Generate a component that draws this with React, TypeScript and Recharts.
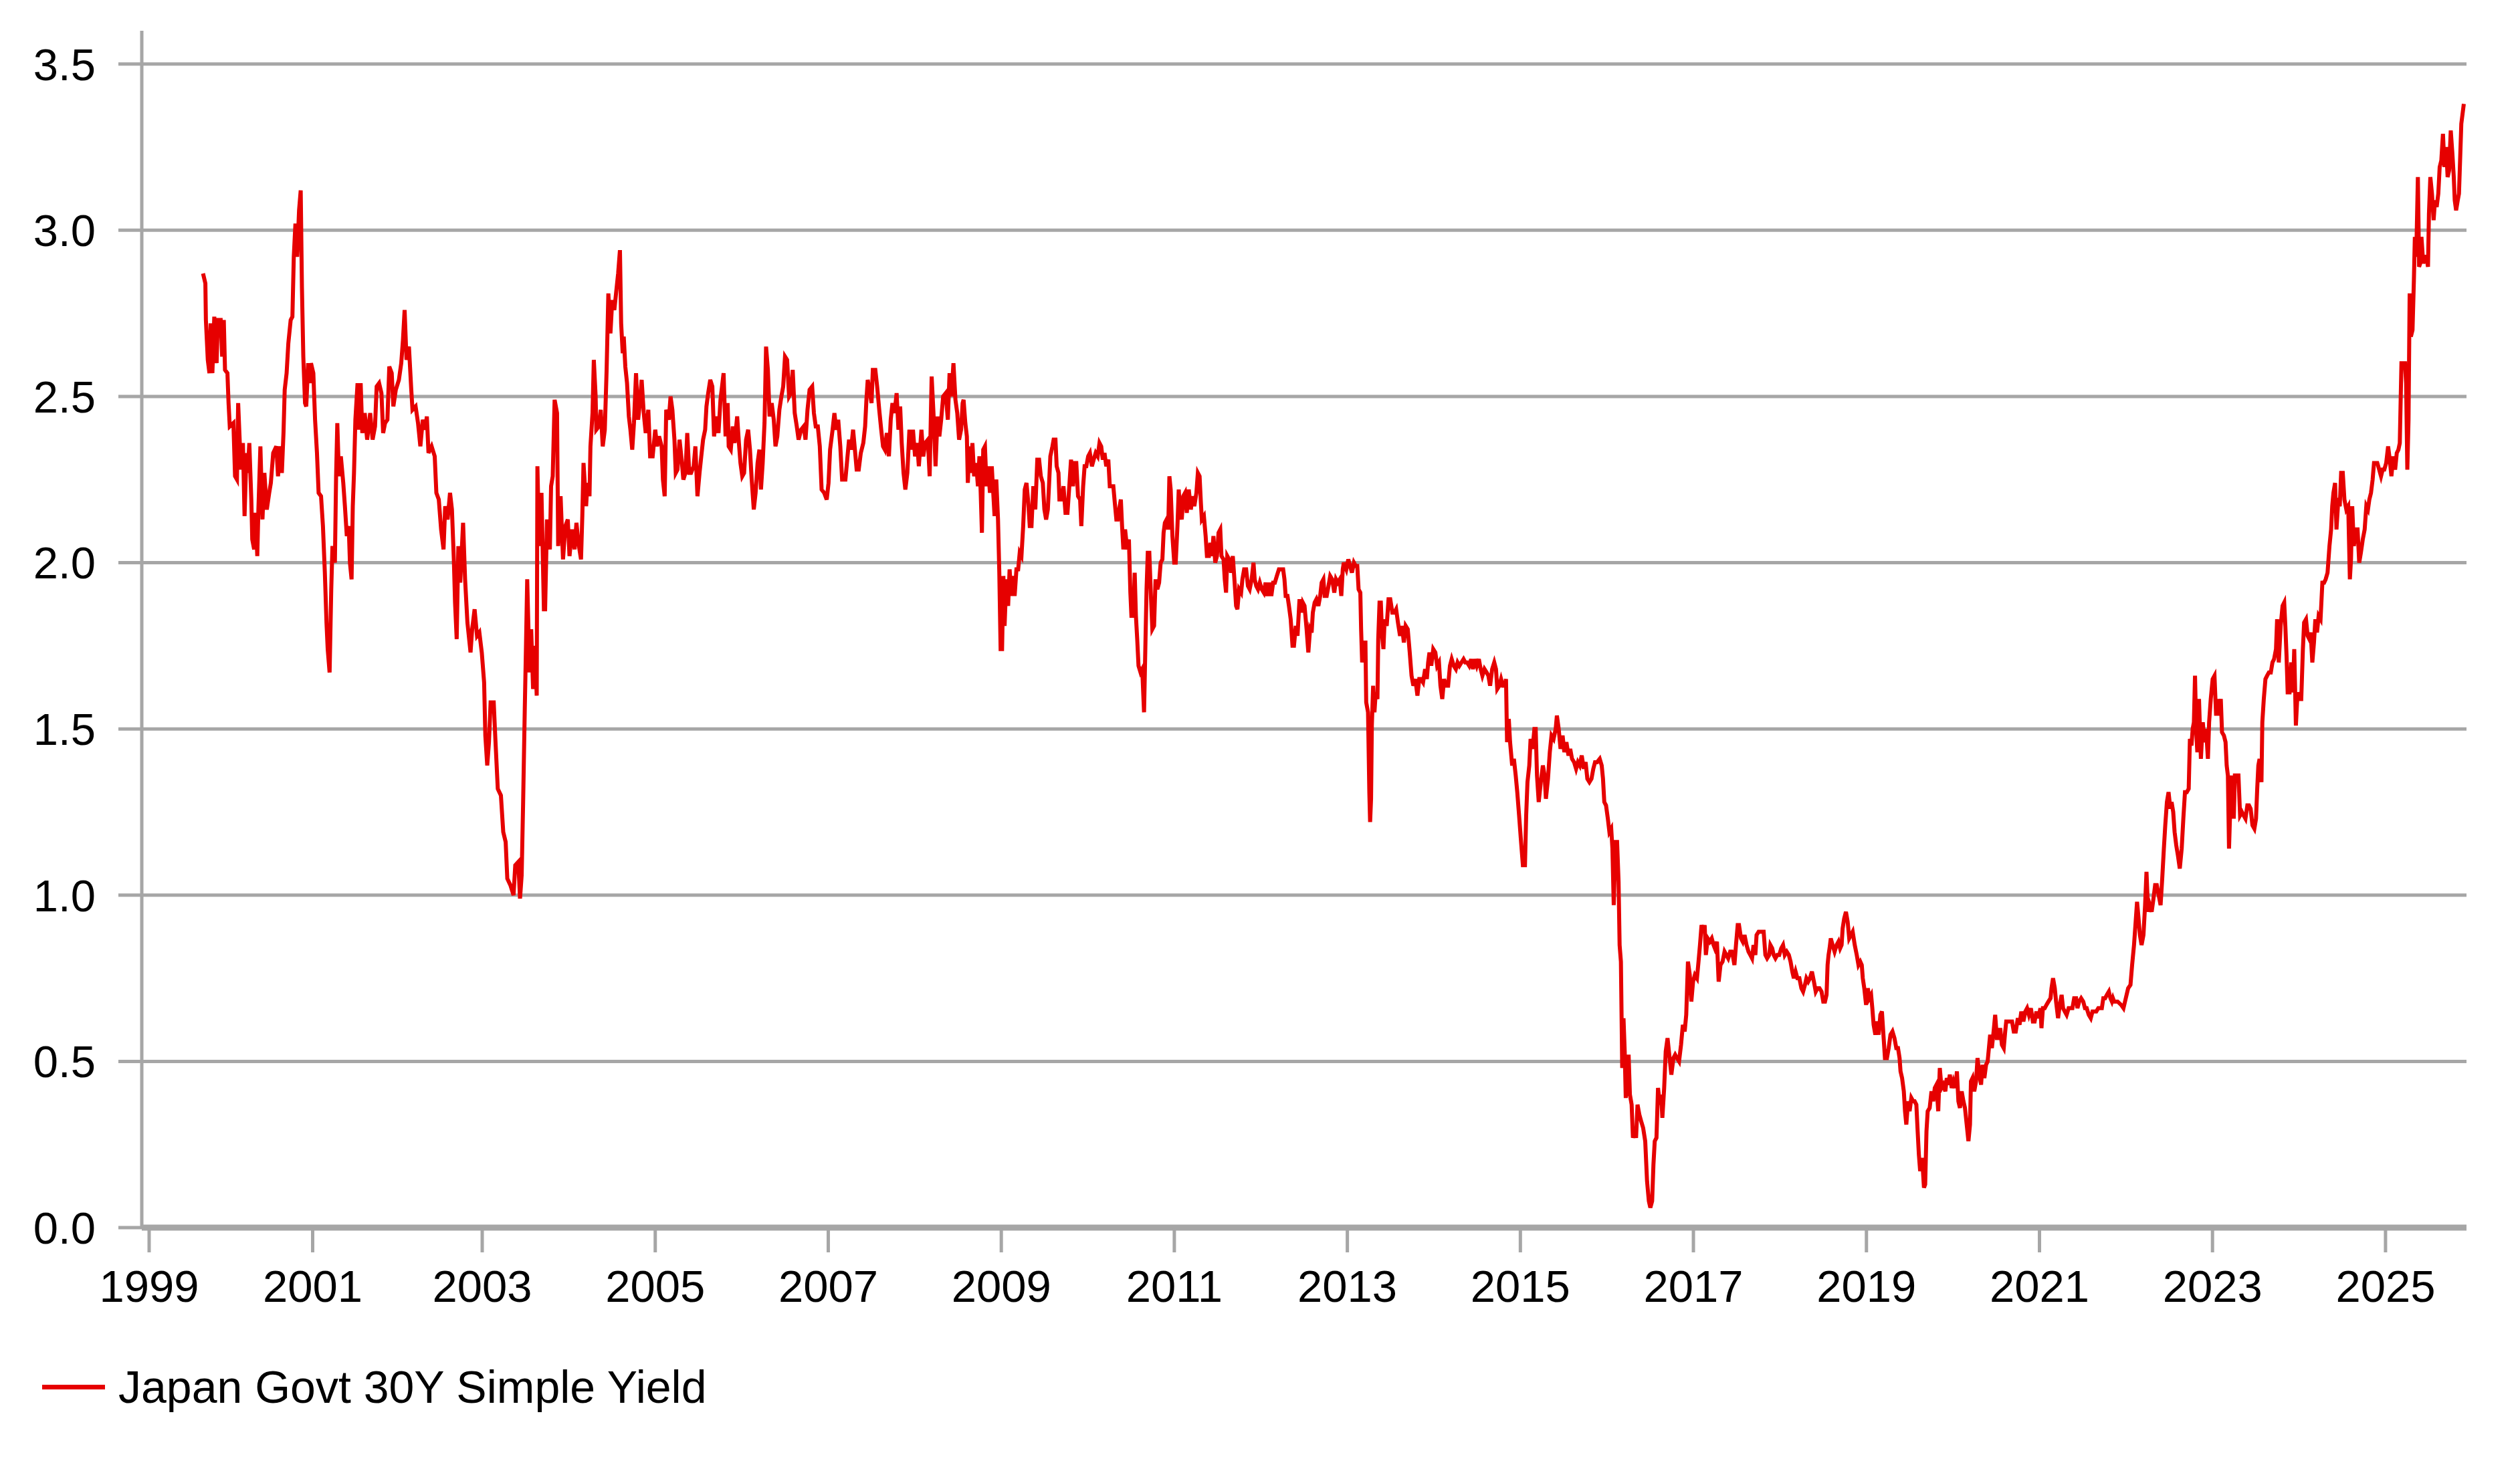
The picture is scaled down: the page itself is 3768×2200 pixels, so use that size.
import { LineChart, Line, XAxis, YAxis, CartesianGrid } from "recharts";

const FONT = '"Liberation Sans", Arial, sans-serif';
const GRID = "#a6a6a6";
const RED = "#e60000";
const SERIES_NAME = "Japan Govt 30Y Simple Yield";

// [decimal year, yield %]
const yields1999to2003: [number, number][] = [
  [1999.773, 2.87], [1999.8, 2.84], [1999.806, 2.73], [1999.828, 2.61], [1999.847, 2.57],
  [1999.861, 2.72], [1999.881, 2.57], [1999.903, 2.74], [1999.93, 2.6], [1999.944, 2.73],
  [1999.977, 2.73], [1999.994, 2.62], [2000.013, 2.73], [2000.027, 2.58], [2000.055, 2.57],
  [2000.068, 2.48], [2000.082, 2.41], [2000.124, 2.42], [2000.143, 2.26], [2000.165, 2.25],
  [2000.179, 2.48], [2000.198, 2.36], [2000.209, 2.28], [2000.234, 2.36], [2000.253, 2.14],
  [2000.275, 2.33], [2000.289, 2.27], [2000.308, 2.36], [2000.331, 2.19], [2000.342, 2.07],
  [2000.364, 2.04], [2000.38, 2.15], [2000.4, 2.02], [2000.413, 2.16], [2000.436, 2.35],
  [2000.46, 2.13], [2000.482, 2.27], [2000.51, 2.16], [2000.538, 2.21], [2000.557, 2.24],
  [2000.584, 2.33], [2000.62, 2.35], [2000.64, 2.26], [2000.662, 2.35], [2000.684, 2.27],
  [2000.703, 2.39], [2000.717, 2.52], [2000.739, 2.57], [2000.759, 2.66], [2000.786, 2.73],
  [2000.806, 2.74], [2000.822, 2.92], [2000.841, 3.02], [2000.861, 2.92], [2000.883, 3.06],
  [2000.902, 3.12], [2000.916, 2.83], [2000.932, 2.62], [2000.952, 2.48], [2000.966, 2.47],
  [2000.988, 2.6], [2001.007, 2.54], [2001.021, 2.6], [2001.048, 2.57], [2001.068, 2.43],
  [2001.09, 2.33], [2001.109, 2.21], [2001.137, 2.2], [2001.159, 2.11], [2001.181, 1.97],
  [2001.2, 1.82], [2001.214, 1.74], [2001.236, 1.67], [2001.255, 1.92], [2001.269, 2.05],
  [2001.297, 2.0], [2001.311, 2.26], [2001.325, 2.42], [2001.344, 2.26], [2001.366, 2.32],
  [2001.394, 2.24], [2001.413, 2.17], [2001.435, 2.08], [2001.457, 2.11], [2001.471, 2.0],
  [2001.49, 1.95], [2001.504, 2.17], [2001.518, 2.27], [2001.534, 2.43], [2001.559, 2.54],
  [2001.573, 2.4], [2001.595, 2.54], [2001.614, 2.39], [2001.642, 2.45], [2001.67, 2.37],
  [2001.705, 2.45], [2001.733, 2.37], [2001.761, 2.41], [2001.78, 2.53], [2001.808, 2.54],
  [2001.835, 2.51], [2001.855, 2.39], [2001.877, 2.42], [2001.904, 2.43], [2001.926, 2.59],
  [2001.954, 2.57], [2001.973, 2.47], [2002.001, 2.52], [2002.037, 2.55], [2002.064, 2.6],
  [2002.084, 2.67], [2002.103, 2.76], [2002.125, 2.61], [2002.153, 2.65], [2002.18, 2.52],
  [2002.194, 2.46], [2002.23, 2.47], [2002.258, 2.42], [2002.285, 2.35], [2002.313, 2.43],
  [2002.34, 2.4], [2002.36, 2.44], [2002.379, 2.33], [2002.415, 2.35], [2002.451, 2.32],
  [2002.47, 2.21], [2002.498, 2.19], [2002.525, 2.1], [2002.553, 2.04], [2002.572, 2.17],
  [2002.6, 2.13], [2002.628, 2.21], [2002.65, 2.16], [2002.672, 2.01], [2002.686, 1.88],
  [2002.705, 1.77], [2002.724, 2.05], [2002.746, 1.94], [2002.779, 2.12], [2002.802, 1.95],
  [2002.829, 1.82], [2002.865, 1.73], [2002.884, 1.8], [2002.912, 1.86], [2002.94, 1.78],
  [2002.967, 1.79], [2002.995, 1.73], [2003.022, 1.64], [2003.036, 1.48], [2003.058, 1.39],
  [2003.078, 1.46], [2003.097, 1.58], [2003.133, 1.58], [2003.152, 1.47], [2003.18, 1.32],
  [2003.216, 1.3], [2003.243, 1.19], [2003.271, 1.16], [2003.29, 1.05], [2003.326, 1.03],
  [2003.362, 1.0], [2003.382, 1.09], [2003.417, 1.1], [2003.437, 0.99], [2003.456, 1.06],
  [2003.473, 1.28], [2003.492, 1.56], [2003.506, 1.75], [2003.52, 1.95], [2003.547, 1.67],
  [2003.566, 1.8], [2003.588, 1.62], [2003.611, 1.75], [2003.63, 1.6], [2003.638, 2.29],
  [2003.658, 2.05], [2003.685, 2.21], [2003.713, 1.86], [2003.727, 1.86], [2003.749, 2.13],
  [2003.782, 2.04], [2003.796, 2.23], [2003.815, 2.26], [2003.837, 2.49], [2003.865, 2.45],
  [2003.878, 2.05], [2003.906, 2.2], [2003.934, 2.01], [2003.961, 2.11], [2003.989, 2.13],
];

const yields2004to2008: [number, number][] = [
  [2004.009, 2.02], [2004.038, 2.1], [2004.068, 2.04], [2004.089, 2.12], [2004.112, 2.06],
  [2004.142, 2.01], [2004.157, 2.14], [2004.171, 2.3], [2004.201, 2.17], [2004.216, 2.24],
  [2004.24, 2.2], [2004.251, 2.35], [2004.275, 2.45], [2004.29, 2.61], [2004.311, 2.5],
  [2004.319, 2.4], [2004.349, 2.41], [2004.37, 2.46], [2004.393, 2.35], [2004.417, 2.4],
  [2004.438, 2.58], [2004.458, 2.81], [2004.482, 2.69], [2004.503, 2.79], [2004.527, 2.76],
  [2004.547, 2.81], [2004.571, 2.87], [2004.592, 2.94], [2004.606, 2.72], [2004.624, 2.63],
  [2004.636, 2.68], [2004.654, 2.59], [2004.674, 2.54], [2004.695, 2.44], [2004.713, 2.4],
  [2004.734, 2.34], [2004.754, 2.42], [2004.778, 2.57], [2004.802, 2.43], [2004.822, 2.48],
  [2004.843, 2.55], [2004.867, 2.45], [2004.89, 2.39], [2004.92, 2.46], [2004.941, 2.32],
  [2004.97, 2.32], [2005.0, 2.4], [2005.021, 2.35], [2005.044, 2.38], [2005.074, 2.35],
  [2005.089, 2.25], [2005.109, 2.2], [2005.127, 2.46], [2005.157, 2.43], [2005.177, 2.5],
  [2005.198, 2.46], [2005.222, 2.37], [2005.237, 2.27], [2005.257, 2.28], [2005.281, 2.37],
  [2005.305, 2.31], [2005.325, 2.25], [2005.349, 2.27], [2005.37, 2.39], [2005.393, 2.27],
  [2005.414, 2.27], [2005.444, 2.29], [2005.464, 2.35], [2005.488, 2.2], [2005.512, 2.27],
  [2005.532, 2.32], [2005.553, 2.37], [2005.577, 2.4], [2005.592, 2.47], [2005.612, 2.51],
  [2005.636, 2.55], [2005.66, 2.53], [2005.68, 2.38], [2005.704, 2.44], [2005.731, 2.39],
  [2005.754, 2.49], [2005.772, 2.53], [2005.79, 2.57], [2005.813, 2.38], [2005.837, 2.48],
  [2005.849, 2.35], [2005.873, 2.34], [2005.896, 2.41], [2005.917, 2.36], [2005.947, 2.44],
  [2005.967, 2.36], [2005.985, 2.3], [2006.006, 2.26], [2006.027, 2.27], [2006.05, 2.37],
  [2006.074, 2.4], [2006.095, 2.34], [2006.115, 2.25], [2006.139, 2.16], [2006.16, 2.21],
  [2006.183, 2.3], [2006.204, 2.34], [2006.222, 2.22], [2006.242, 2.3], [2006.263, 2.42],
  [2006.281, 2.65], [2006.302, 2.58], [2006.322, 2.44], [2006.346, 2.48], [2006.37, 2.43],
  [2006.39, 2.35], [2006.411, 2.38], [2006.435, 2.46], [2006.458, 2.5], [2006.479, 2.53],
  [2006.5, 2.62], [2006.524, 2.61], [2006.547, 2.5], [2006.568, 2.51], [2006.589, 2.58],
  [2006.612, 2.45], [2006.636, 2.41], [2006.657, 2.37], [2006.686, 2.4], [2006.716, 2.41],
  [2006.737, 2.37], [2006.76, 2.46], [2006.784, 2.52], [2006.814, 2.53], [2006.834, 2.45],
  [2006.855, 2.41], [2006.879, 2.41], [2006.902, 2.35], [2006.923, 2.22], [2006.953, 2.21],
  [2006.982, 2.19], [2007.003, 2.24], [2007.021, 2.34], [2007.05, 2.4], [2007.071, 2.45],
  [2007.092, 2.4], [2007.115, 2.43], [2007.139, 2.35], [2007.16, 2.25], [2007.198, 2.25],
  [2007.219, 2.31], [2007.24, 2.37], [2007.263, 2.34], [2007.287, 2.4], [2007.308, 2.34],
  [2007.328, 2.28], [2007.352, 2.28], [2007.376, 2.33], [2007.405, 2.36], [2007.426, 2.41],
  [2007.441, 2.49], [2007.456, 2.55], [2007.476, 2.52], [2007.5, 2.48], [2007.515, 2.58],
  [2007.544, 2.58], [2007.565, 2.53], [2007.589, 2.46], [2007.612, 2.4], [2007.633, 2.35],
  [2007.654, 2.34], [2007.677, 2.39], [2007.701, 2.32], [2007.722, 2.43], [2007.742, 2.48],
  [2007.766, 2.45], [2007.79, 2.51], [2007.811, 2.4], [2007.831, 2.47], [2007.849, 2.36],
  [2007.87, 2.27], [2007.891, 2.22], [2007.914, 2.27], [2007.938, 2.4], [2007.958, 2.34],
  [2007.979, 2.4], [2008.003, 2.32], [2008.027, 2.36], [2008.047, 2.29], [2008.077, 2.4],
  [2008.098, 2.32], [2008.121, 2.36], [2008.151, 2.37], [2008.172, 2.26], [2008.195, 2.56],
  [2008.216, 2.45], [2008.24, 2.29], [2008.263, 2.44], [2008.284, 2.38], [2008.305, 2.43],
  [2008.328, 2.5], [2008.358, 2.51], [2008.382, 2.43], [2008.402, 2.57], [2008.423, 2.5],
  [2008.447, 2.6], [2008.47, 2.49], [2008.491, 2.45], [2008.512, 2.37], [2008.535, 2.4],
  [2008.553, 2.48],
];

const yields2008to2012: [number, number][] = [
  [2008.564, 2.49], [2008.584, 2.42], [2008.602, 2.38], [2008.613, 2.24], [2008.631, 2.35],
  [2008.651, 2.27], [2008.666, 2.36], [2008.686, 2.26], [2008.709, 2.3], [2008.73, 2.23],
  [2008.747, 2.32], [2008.762, 2.21], [2008.776, 2.09], [2008.791, 2.34], [2008.811, 2.35],
  [2008.829, 2.23], [2008.846, 2.29], [2008.869, 2.21], [2008.89, 2.29], [2008.907, 2.21],
  [2008.922, 2.14], [2008.942, 2.25], [2008.962, 2.13], [2008.977, 1.97], [2008.992, 1.74],
  [2009.009, 1.74], [2009.024, 1.96], [2009.038, 1.81], [2009.058, 1.95], [2009.079, 1.87],
  [2009.096, 1.98], [2009.117, 1.9], [2009.137, 1.96], [2009.154, 1.9], [2009.175, 1.98],
  [2009.195, 1.98], [2009.213, 2.03], [2009.233, 2.02], [2009.253, 2.11], [2009.271, 2.22],
  [2009.291, 2.24], [2009.312, 2.18], [2009.329, 2.11], [2009.349, 2.11], [2009.37, 2.23],
  [2009.393, 2.16], [2009.416, 2.31], [2009.437, 2.31], [2009.457, 2.26], [2009.48, 2.24],
  [2009.498, 2.16], [2009.518, 2.13], [2009.538, 2.16], [2009.553, 2.24], [2009.567, 2.32],
  [2009.591, 2.35], [2009.605, 2.37], [2009.626, 2.37], [2009.64, 2.29], [2009.661, 2.27],
  [2009.672, 2.19], [2009.698, 2.19], [2009.719, 2.23], [2009.742, 2.15], [2009.765, 2.15],
  [2009.786, 2.23], [2009.806, 2.31], [2009.829, 2.23], [2009.85, 2.3], [2009.867, 2.3],
  [2009.887, 2.2], [2009.911, 2.19], [2009.925, 2.11], [2009.946, 2.23], [2009.963, 2.29],
  [2009.983, 2.29], [2010.004, 2.32], [2010.024, 2.33], [2010.047, 2.29], [2010.068, 2.31],
  [2010.091, 2.33], [2010.114, 2.32], [2010.135, 2.36], [2010.155, 2.35], [2010.173, 2.31],
  [2010.193, 2.33], [2010.213, 2.29], [2010.237, 2.31], [2010.254, 2.23], [2010.274, 2.23],
  [2010.295, 2.23], [2010.312, 2.18], [2010.33, 2.13], [2010.347, 2.13], [2010.362, 2.16],
  [2010.382, 2.19], [2010.396, 2.11], [2010.411, 2.04], [2010.431, 2.1], [2010.455, 2.04],
  [2010.475, 2.07], [2010.492, 1.91], [2010.504, 1.84], [2010.527, 1.84], [2010.542, 1.97],
  [2010.556, 1.84], [2010.571, 1.77], [2010.586, 1.69], [2010.609, 1.67], [2010.629, 1.68],
  [2010.65, 1.55], [2010.667, 1.77], [2010.679, 1.92], [2010.693, 2.03], [2010.711, 2.03],
  [2010.731, 1.89], [2010.746, 1.8], [2010.766, 1.81], [2010.783, 1.95], [2010.804, 1.92],
  [2010.824, 1.94], [2010.842, 2.0], [2010.862, 2.01], [2010.876, 2.09], [2010.891, 2.12],
  [2010.911, 2.13], [2010.929, 2.1], [2010.943, 2.26], [2010.958, 2.22], [2010.978, 2.08],
  [2010.999, 2.0], [2011.016, 2.0], [2011.036, 2.11], [2011.051, 2.22], [2011.065, 2.16],
  [2011.086, 2.13], [2011.103, 2.2], [2011.124, 2.21], [2011.144, 2.15], [2011.167, 2.22],
  [2011.191, 2.16], [2011.211, 2.2], [2011.231, 2.17], [2011.255, 2.21], [2011.272, 2.27],
  [2011.292, 2.26], [2011.307, 2.18], [2011.318, 2.13], [2011.342, 2.14], [2011.362, 2.08],
  [2011.377, 2.02], [2011.4, 2.02], [2011.417, 2.06], [2011.435, 2.02], [2011.452, 2.08],
  [2011.473, 2.0], [2011.493, 2.02], [2011.511, 2.09], [2011.531, 2.1], [2011.545, 2.02],
  [2011.569, 2.01], [2011.583, 1.95], [2011.598, 1.91], [2011.612, 2.02], [2011.633, 2.01],
  [2011.656, 1.97], [2011.676, 2.02], [2011.697, 1.94], [2011.714, 1.87], [2011.729, 1.86],
  [2011.749, 1.92], [2011.772, 1.91], [2011.787, 1.95], [2011.807, 1.98], [2011.83, 1.98],
  [2011.851, 1.93], [2011.871, 1.92], [2011.894, 1.95], [2011.915, 2.0], [2011.929, 1.95],
  [2011.947, 1.93], [2011.967, 1.92], [2011.988, 1.94], [2012.011, 1.92], [2012.034, 1.91],
  [2012.055, 1.94], [2012.075, 1.9], [2012.098, 1.94], [2012.121, 1.9], [2012.142, 1.94],
  [2012.162, 1.94], [2012.185, 1.96], [2012.209, 1.98], [2012.238, 1.98], [2012.258, 1.98],
  [2012.273, 1.95], [2012.287, 1.9], [2012.308, 1.9], [2012.325, 1.87], [2012.345, 1.83],
  [2012.366, 1.75], [2012.383, 1.75], [2012.404, 1.81], [2012.424, 1.78], [2012.447, 1.89],
  [2012.468, 1.85], [2012.485, 1.88], [2012.505, 1.87], [2012.529, 1.8], [2012.549, 1.73],
  [2012.569, 1.8], [2012.587, 1.79], [2012.601, 1.85], [2012.622, 1.88], [2012.642, 1.89],
  [2012.665, 1.87], [2012.686, 1.9], [2012.703, 1.94], [2012.723, 1.95], [2012.738, 1.9],
  [2012.761, 1.9], [2012.782, 1.93], [2012.802, 1.96], [2012.825, 1.95], [2012.849, 1.91],
  [2012.869, 1.95], [2012.889, 1.94], [2012.912, 1.95], [2012.93, 1.9], [2012.947, 1.98],
  [2012.959, 2.0],
];

const yields2013to2017: [number, number][] = [
  [2012.973, 1.99], [2012.988, 1.98], [2013.011, 2.01], [2013.032, 1.99], [2013.053, 1.97],
  [2013.076, 2.0], [2013.097, 1.99], [2013.115, 1.99], [2013.13, 1.92], [2013.15, 1.91],
  [2013.159, 1.8], [2013.171, 1.7], [2013.189, 1.76], [2013.209, 1.76], [2013.218, 1.58],
  [2013.239, 1.55], [2013.254, 1.31], [2013.263, 1.22], [2013.274, 1.29], [2013.283, 1.51],
  [2013.298, 1.63], [2013.313, 1.55], [2013.328, 1.61], [2013.348, 1.59], [2013.357, 1.77],
  [2013.372, 1.88], [2013.387, 1.88], [2013.402, 1.78], [2013.417, 1.74], [2013.431, 1.83],
  [2013.455, 1.81], [2013.476, 1.89], [2013.496, 1.89], [2013.52, 1.85], [2013.544, 1.85],
  [2013.564, 1.86], [2013.585, 1.82], [2013.609, 1.78], [2013.632, 1.81], [2013.653, 1.76],
  [2013.674, 1.81], [2013.698, 1.8], [2013.721, 1.73], [2013.742, 1.66], [2013.763, 1.63],
  [2013.786, 1.65], [2013.81, 1.6], [2013.831, 1.65], [2013.851, 1.65], [2013.875, 1.64],
  [2013.899, 1.68], [2013.919, 1.65], [2013.934, 1.7], [2013.949, 1.73], [2013.97, 1.69],
  [2013.993, 1.74], [2014.017, 1.73], [2014.038, 1.69], [2014.059, 1.7], [2014.076, 1.63],
  [2014.097, 1.59], [2014.118, 1.65], [2014.141, 1.63], [2014.165, 1.63], [2014.186, 1.69],
  [2014.206, 1.71], [2014.23, 1.69], [2014.254, 1.68], [2014.274, 1.7], [2014.295, 1.69],
  [2014.319, 1.7], [2014.343, 1.71], [2014.363, 1.7], [2014.384, 1.7], [2014.408, 1.69],
  [2014.431, 1.71], [2014.452, 1.68], [2014.473, 1.71], [2014.496, 1.69], [2014.52, 1.71],
  [2014.541, 1.68], [2014.561, 1.66], [2014.585, 1.68], [2014.609, 1.67], [2014.63, 1.66],
  [2014.65, 1.63], [2014.674, 1.68], [2014.698, 1.7], [2014.718, 1.68], [2014.733, 1.62],
  [2014.757, 1.63], [2014.777, 1.65], [2014.798, 1.63], [2014.822, 1.63], [2014.834, 1.65],
  [2014.846, 1.46], [2014.866, 1.53], [2014.881, 1.46], [2014.905, 1.39], [2014.925, 1.41],
  [2014.946, 1.36], [2014.964, 1.31], [2014.985, 1.24], [2015.005, 1.17], [2015.029, 1.09],
  [2015.053, 1.09], [2015.067, 1.24], [2015.082, 1.34], [2015.103, 1.39], [2015.118, 1.47],
  [2015.141, 1.44], [2015.162, 1.5], [2015.177, 1.5], [2015.192, 1.36], [2015.212, 1.28],
  [2015.236, 1.34], [2015.26, 1.39], [2015.28, 1.36], [2015.295, 1.29], [2015.319, 1.35],
  [2015.34, 1.43], [2015.36, 1.48], [2015.384, 1.47], [2015.408, 1.5], [2015.422, 1.54],
  [2015.443, 1.5], [2015.464, 1.44], [2015.488, 1.48], [2015.508, 1.43], [2015.532, 1.46],
  [2015.556, 1.42], [2015.576, 1.44], [2015.597, 1.41], [2015.621, 1.4], [2015.644, 1.38],
  [2015.665, 1.4], [2015.686, 1.39], [2015.709, 1.42], [2015.733, 1.38], [2015.754, 1.4],
  [2015.774, 1.35], [2015.798, 1.34], [2015.822, 1.35], [2015.843, 1.38], [2015.863, 1.4],
  [2015.887, 1.4], [2015.917, 1.41], [2015.94, 1.39], [2015.955, 1.35], [2015.97, 1.28],
  [2015.99, 1.27], [2016.011, 1.23], [2016.029, 1.19], [2016.05, 1.2], [2016.064, 1.14],
  [2016.079, 0.97], [2016.1, 1.16], [2016.118, 1.16], [2016.135, 1.04], [2016.147, 0.85],
  [2016.162, 0.8], [2016.177, 0.48], [2016.192, 0.63], [2016.206, 0.53], [2016.218, 0.39],
  [2016.236, 0.44], [2016.251, 0.52], [2016.266, 0.4], [2016.286, 0.37], [2016.301, 0.27],
  [2016.322, 0.29], [2016.337, 0.27], [2016.354, 0.37], [2016.375, 0.34], [2016.396, 0.32],
  [2016.419, 0.3], [2016.443, 0.26], [2016.464, 0.14], [2016.485, 0.08], [2016.502, 0.06],
  [2016.523, 0.08], [2016.538, 0.19], [2016.553, 0.26], [2016.573, 0.27], [2016.591, 0.42],
  [2016.612, 0.37], [2016.627, 0.4], [2016.641, 0.33], [2016.662, 0.42], [2016.68, 0.53],
  [2016.701, 0.57], [2016.721, 0.52], [2016.745, 0.46], [2016.769, 0.51], [2016.789, 0.52],
  [2016.81, 0.51], [2016.834, 0.5], [2016.857, 0.55], [2016.878, 0.61], [2016.899, 0.59],
  [2016.917, 0.64], [2016.937, 0.8], [2016.958, 0.76], [2016.976, 0.68], [2016.996, 0.74],
  [2017.017, 0.76], [2017.041, 0.75], [2017.059, 0.8], [2017.076, 0.85], [2017.094, 0.91],
  [2017.115, 0.89], [2017.13, 0.91], [2017.144, 0.82], [2017.165, 0.87], [2017.189, 0.86],
  [2017.212, 0.87], [2017.233, 0.85], [2017.248, 0.84], [2017.272, 0.86], [2017.292, 0.74],
  [2017.313, 0.79], [2017.337, 0.8], [2017.36, 0.83], [2017.381, 0.82], [2017.402, 0.81],
  [2017.425, 0.83], [2017.443, 0.83],
];

const yields2017to2021: [number, number][] = [
  [2017.454, 0.82], [2017.474, 0.79], [2017.492, 0.85], [2017.512, 0.91], [2017.527, 0.91],
  [2017.55, 0.87], [2017.57, 0.86], [2017.591, 0.88], [2017.614, 0.85], [2017.637, 0.83],
  [2017.658, 0.82], [2017.678, 0.81], [2017.695, 0.85], [2017.716, 0.82], [2017.73, 0.88],
  [2017.754, 0.89], [2017.774, 0.89], [2017.794, 0.89], [2017.812, 0.89], [2017.832, 0.82],
  [2017.852, 0.81], [2017.876, 0.82], [2017.89, 0.85], [2017.911, 0.84], [2017.928, 0.82],
  [2017.948, 0.81], [2017.969, 0.82], [2017.992, 0.82], [2018.015, 0.84], [2018.036, 0.85],
  [2018.056, 0.82], [2018.079, 0.83], [2018.103, 0.82], [2018.123, 0.8], [2018.143, 0.77],
  [2018.161, 0.75], [2018.181, 0.77], [2018.202, 0.75], [2018.225, 0.75], [2018.248, 0.72],
  [2018.268, 0.71], [2018.289, 0.73], [2018.306, 0.75], [2018.327, 0.74], [2018.347, 0.75],
  [2018.37, 0.77], [2018.393, 0.74], [2018.414, 0.71], [2018.434, 0.72], [2018.457, 0.72],
  [2018.481, 0.71], [2018.501, 0.68], [2018.521, 0.68], [2018.539, 0.7], [2018.551, 0.79],
  [2018.562, 0.82], [2018.574, 0.84], [2018.588, 0.87], [2018.609, 0.85], [2018.632, 0.83],
  [2018.655, 0.85], [2018.676, 0.86], [2018.696, 0.84], [2018.713, 0.85], [2018.725, 0.9],
  [2018.743, 0.93], [2018.763, 0.95], [2018.783, 0.92], [2018.801, 0.87], [2018.821, 0.88],
  [2018.841, 0.89], [2018.865, 0.85], [2018.888, 0.82], [2018.908, 0.79], [2018.929, 0.8],
  [2018.946, 0.79], [2018.958, 0.75], [2018.975, 0.72], [2018.996, 0.67], [2019.016, 0.72],
  [2019.033, 0.69], [2019.054, 0.7], [2019.068, 0.66], [2019.083, 0.61], [2019.103, 0.58],
  [2019.121, 0.62], [2019.141, 0.58], [2019.161, 0.64], [2019.179, 0.65], [2019.199, 0.57],
  [2019.214, 0.51], [2019.237, 0.51], [2019.257, 0.54], [2019.278, 0.58], [2019.301, 0.59],
  [2019.324, 0.57], [2019.345, 0.54], [2019.365, 0.54], [2019.383, 0.51], [2019.394, 0.47],
  [2019.412, 0.45], [2019.432, 0.41], [2019.446, 0.35], [2019.461, 0.31], [2019.481, 0.38],
  [2019.499, 0.35], [2019.519, 0.39], [2019.54, 0.38], [2019.557, 0.38], [2019.577, 0.37],
  [2019.592, 0.29], [2019.606, 0.22], [2019.621, 0.17], [2019.644, 0.21], [2019.665, 0.12],
  [2019.679, 0.13], [2019.694, 0.29], [2019.708, 0.35], [2019.731, 0.36], [2019.752, 0.41],
  [2019.772, 0.38], [2019.79, 0.42], [2019.81, 0.43], [2019.83, 0.35], [2019.848, 0.48],
  [2019.868, 0.42], [2019.889, 0.43], [2019.912, 0.41], [2019.929, 0.45], [2019.947, 0.43],
  [2019.964, 0.46], [2019.985, 0.42], [2020.005, 0.44], [2020.028, 0.42], [2020.046, 0.47],
  [2020.063, 0.38], [2020.081, 0.36], [2020.101, 0.41], [2020.121, 0.38], [2020.139, 0.36],
  [2020.159, 0.31], [2020.179, 0.26], [2020.197, 0.31], [2020.208, 0.44], [2020.226, 0.45],
  [2020.246, 0.41], [2020.267, 0.44], [2020.284, 0.51], [2020.305, 0.46], [2020.325, 0.43],
  [2020.342, 0.49], [2020.363, 0.45], [2020.383, 0.49], [2020.401, 0.5], [2020.412, 0.53],
  [2020.43, 0.58], [2020.45, 0.54], [2020.47, 0.59], [2020.488, 0.64], [2020.508, 0.57],
  [2020.528, 0.57], [2020.546, 0.6], [2020.566, 0.55], [2020.587, 0.54], [2020.604, 0.59],
  [2020.616, 0.62], [2020.639, 0.62], [2020.662, 0.62], [2020.683, 0.62], [2020.703, 0.59],
  [2020.726, 0.59], [2020.75, 0.63], [2020.77, 0.61], [2020.79, 0.65], [2020.814, 0.62],
  [2020.837, 0.65], [2020.857, 0.66], [2020.878, 0.64], [2020.901, 0.66], [2020.924, 0.62],
  [2020.944, 0.62], [2020.965, 0.65], [2020.988, 0.63], [2021.011, 0.66], [2021.023, 0.6],
  [2021.04, 0.66], [2021.061, 0.66], [2021.081, 0.67], [2021.104, 0.68], [2021.128, 0.69],
  [2021.139, 0.72], [2021.157, 0.75], [2021.177, 0.72], [2021.192, 0.68], [2021.215, 0.63],
  [2021.235, 0.67], [2021.256, 0.7], [2021.273, 0.66], [2021.293, 0.65], [2021.314, 0.64],
  [2021.337, 0.66], [2021.36, 0.66], [2021.381, 0.66], [2021.401, 0.69], [2021.424, 0.69],
  [2021.439, 0.66], [2021.459, 0.68], [2021.482, 0.69], [2021.506, 0.68], [2021.526, 0.66],
  [2021.546, 0.66], [2021.57, 0.64], [2021.593, 0.63], [2021.613, 0.65], [2021.634, 0.65],
  [2021.657, 0.65], [2021.68, 0.66], [2021.701, 0.66], [2021.721, 0.66], [2021.738, 0.69],
  [2021.759, 0.69], [2021.779, 0.7], [2021.802, 0.71], [2021.82, 0.69], [2021.837, 0.68],
  [2021.849, 0.69],
];

const yields2022to2025: [number, number][] = [
  [2021.863, 0.68], [2021.903, 0.68], [2021.944, 0.67], [2021.971, 0.66], [2021.998, 0.69],
  [2022.025, 0.72], [2022.052, 0.73], [2022.071, 0.79], [2022.093, 0.85], [2022.112, 0.92],
  [2022.128, 0.98], [2022.142, 0.94], [2022.161, 0.88], [2022.18, 0.85], [2022.202, 0.88],
  [2022.221, 0.97], [2022.237, 1.07], [2022.256, 0.95], [2022.275, 0.97], [2022.297, 0.95],
  [2022.318, 0.99], [2022.337, 1.03], [2022.356, 1.03], [2022.378, 1.0], [2022.4, 0.97],
  [2022.419, 1.05], [2022.438, 1.14], [2022.454, 1.21], [2022.473, 1.28], [2022.492, 1.31],
  [2022.513, 1.26], [2022.527, 1.28], [2022.546, 1.25], [2022.562, 1.19], [2022.581, 1.15],
  [2022.6, 1.12], [2022.622, 1.08], [2022.644, 1.14], [2022.663, 1.23], [2022.682, 1.31],
  [2022.703, 1.31], [2022.725, 1.32], [2022.739, 1.47], [2022.757, 1.45], [2022.771, 1.5],
  [2022.785, 1.52], [2022.798, 1.66], [2022.812, 1.49], [2022.825, 1.43], [2022.844, 1.59],
  [2022.866, 1.41], [2022.888, 1.52], [2022.907, 1.46], [2022.926, 1.5], [2022.947, 1.41],
  [2022.961, 1.52], [2022.98, 1.59], [2023.002, 1.65], [2023.023, 1.66], [2023.042, 1.54],
  [2023.061, 1.59], [2023.077, 1.54], [2023.096, 1.59], [2023.11, 1.49], [2023.132, 1.48],
  [2023.151, 1.46], [2023.164, 1.39], [2023.178, 1.36], [2023.191, 1.14], [2023.205, 1.26],
  [2023.224, 1.36], [2023.246, 1.23], [2023.259, 1.36], [2023.278, 1.36], [2023.3, 1.36],
  [2023.319, 1.24], [2023.34, 1.25], [2023.359, 1.24], [2023.381, 1.23], [2023.403, 1.27],
  [2023.422, 1.27], [2023.441, 1.26], [2023.462, 1.21], [2023.484, 1.2], [2023.503, 1.23],
  [2023.517, 1.32], [2023.53, 1.39], [2023.544, 1.41], [2023.566, 1.34], [2023.576, 1.52],
  [2023.593, 1.59], [2023.612, 1.65], [2023.631, 1.66], [2023.652, 1.67], [2023.674, 1.67],
  [2023.693, 1.7], [2023.712, 1.71], [2023.734, 1.74], [2023.747, 1.83], [2023.766, 1.7],
  [2023.788, 1.81], [2023.81, 1.87], [2023.829, 1.88], [2023.842, 1.81], [2023.856, 1.72],
  [2023.869, 1.61], [2023.891, 1.61], [2023.91, 1.7], [2023.929, 1.61], [2023.945, 1.74],
  [2023.964, 1.51], [2023.983, 1.61], [2024.005, 1.59], [2024.026, 1.59], [2024.045, 1.74],
  [2024.059, 1.82], [2024.081, 1.83], [2024.1, 1.78], [2024.119, 1.77], [2024.135, 1.79],
  [2024.154, 1.7], [2024.173, 1.76], [2024.189, 1.83], [2024.208, 1.79], [2024.227, 1.84],
  [2024.249, 1.83], [2024.27, 1.94], [2024.29, 1.94], [2024.308, 1.95], [2024.33, 1.97],
  [2024.352, 2.05], [2024.371, 2.1], [2024.384, 2.17], [2024.398, 2.21], [2024.417, 2.24],
  [2024.433, 2.1], [2024.452, 2.18], [2024.471, 2.17], [2024.487, 2.27], [2024.506, 2.27],
  [2024.525, 2.19], [2024.547, 2.16], [2024.569, 2.17], [2024.588, 1.95], [2024.601, 2.01],
  [2024.615, 2.17], [2024.634, 2.05], [2024.656, 2.1], [2024.677, 2.1], [2024.696, 2.0],
  [2024.715, 2.03], [2024.737, 2.07], [2024.759, 2.1], [2024.778, 2.17], [2024.797, 2.16],
  [2024.813, 2.19], [2024.832, 2.21], [2024.851, 2.25], [2024.867, 2.3], [2024.886, 2.3],
  [2024.905, 2.3], [2024.927, 2.28], [2024.948, 2.26], [2024.967, 2.28], [2024.986, 2.28],
  [2025.008, 2.3], [2025.03, 2.35], [2025.049, 2.31], [2025.068, 2.26], [2025.089, 2.32],
  [2025.111, 2.28], [2025.13, 2.33], [2025.149, 2.34], [2025.165, 2.36], [2025.176, 2.5],
  [2025.184, 2.6], [2025.203, 2.6], [2025.225, 2.6], [2025.238, 2.54], [2025.252, 2.28],
  [2025.266, 2.43], [2025.279, 2.81], [2025.293, 2.68], [2025.312, 2.7], [2025.328, 2.85],
  [2025.339, 2.98], [2025.355, 2.92], [2025.374, 3.16], [2025.388, 2.89], [2025.401, 2.9],
  [2025.415, 2.98], [2025.436, 2.9], [2025.455, 2.92], [2025.474, 2.92], [2025.491, 2.89],
  [2025.502, 3.05], [2025.518, 3.16], [2025.537, 3.11], [2025.556, 3.03], [2025.572, 3.09],
  [2025.591, 3.07], [2025.61, 3.11], [2025.626, 3.19], [2025.645, 3.21], [2025.664, 3.29],
  [2025.681, 3.19], [2025.7, 3.25], [2025.718, 3.16], [2025.735, 3.18], [2025.754, 3.3],
  [2025.773, 3.23], [2025.789, 3.16], [2025.8, 3.09], [2025.816, 3.06], [2025.835, 3.09],
  [2025.849, 3.11], [2025.862, 3.21], [2025.876, 3.32], [2025.905, 3.38],
];

// tick positions on the date axis (first two sit slightly off Jan 1 in the original)
const xTicks = [1999.15, 2001.04, 2003, 2005, 2007, 2009, 2011, 2013, 2015, 2017, 2019, 2021, 2023, 2025];
const yTicks = [0, 0.5, 1, 1.5, 2, 2.5, 3, 3.5];

const data = [
  ...yields1999to2003,
  ...yields2004to2008,
  ...yields2008to2012,
  ...yields2013to2017,
  ...yields2017to2021,
  ...yields2022to2025,
].map(([t, v]) => ({ t, v }));

const TICK_STYLE = { fill: "#000", fontSize: 67, fontFamily: FONT };

export default function App() {
  return (
    <div
      style={{
        position: "absolute",
        left: 0,
        top: 0,
        width: 3768,
        height: 2200,
        background: "#fff",
        fontFamily: FONT,
      }}
    >
      <LineChart
        width={3768}
        height={2200}
        data={data}
        margin={{ top: 46, right: 80, left: 0, bottom: 214 }}
      >
        <CartesianGrid vertical={false} stroke={GRID} strokeWidth={5} syncWithTicks />
        <XAxis
          dataKey="t"
          type="number"
          domain={[1999.065, 2025.936]}
          allowDataOverflow
          ticks={xTicks}
          interval={0}
          tickFormatter={(v) => String(Math.round(v))}
          height={150}
          axisLine={{ stroke: GRID, strokeWidth: 9 }}
          tickLine={{ stroke: GRID, strokeWidth: 5 }}
          tickSize={37}
          tickMargin={26}
          tick={TICK_STYLE}
        />
        <YAxis
          type="number"
          domain={[0, 3.6]}
          allowDataOverflow
          ticks={yTicks}
          interval={0}
          tickFormatter={(v) => Number(v).toFixed(1)}
          width={212}
          axisLine={{ stroke: GRID, strokeWidth: 5 }}
          tickLine={{ stroke: GRID, strokeWidth: 5 }}
          tickSize={35}
          tickMargin={34}
          tick={TICK_STYLE}
        />
        <Line
          type="linear"
          dataKey="v"
          name={SERIES_NAME}
          stroke={RED}
          strokeWidth={6}
          dot={false}
          activeDot={false}
          isAnimationActive={false}
        />
      </LineChart>

      {/* legend below the plot */}
      <div
        style={{
          position: "absolute",
          left: 63,
          top: 2040,
          height: 68,
          display: "flex",
          alignItems: "center",
          fontSize: 68,
          lineHeight: "68px",
          color: "#000",
          whiteSpace: "nowrap",
        }}
      >
        <span style={{ display: "inline-block", width: 94, height: 7, background: RED, marginRight: 20 }} />
        <span>{SERIES_NAME}</span>
      </div>
    </div>
  );
}
